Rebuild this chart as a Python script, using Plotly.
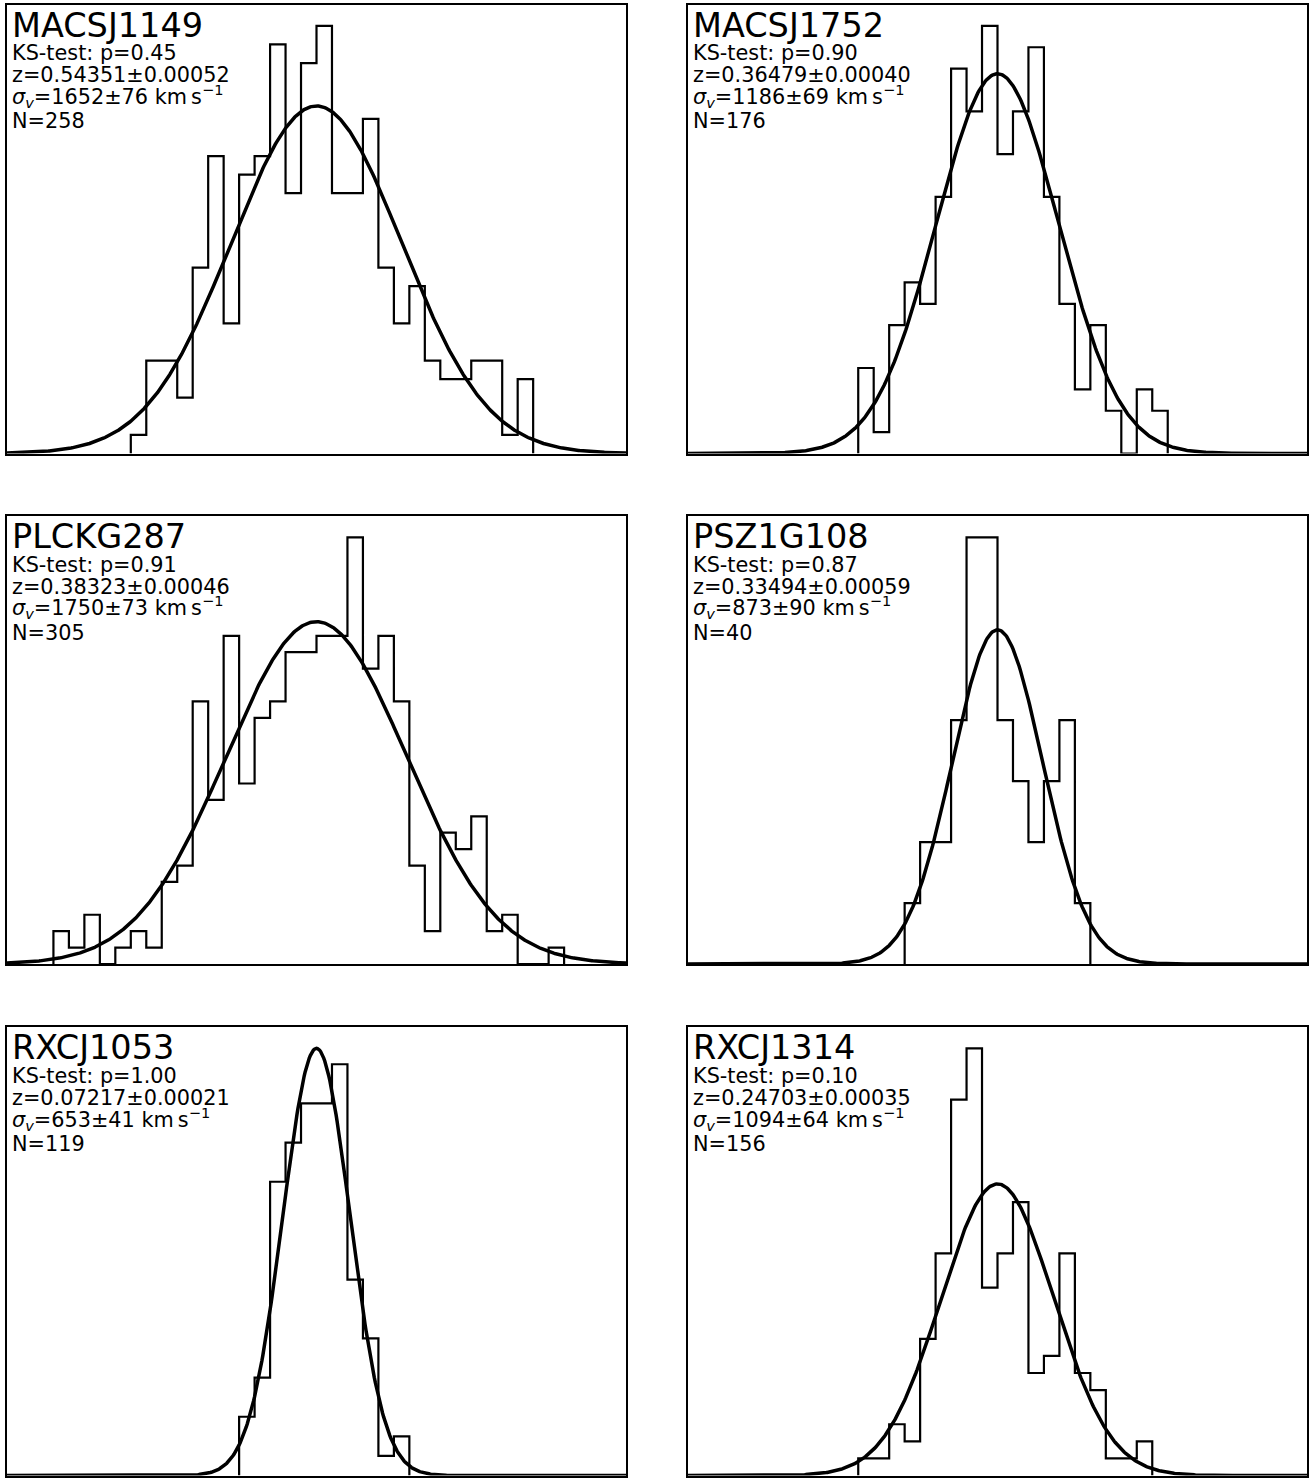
import numpy as np
import plotly.graph_objects as go

# ---------------- data ----------------
cluster_names = ["MACSJ1149", "MACSJ1752", "PLCKG287", "PSZ1G108", "RXCJ1053", "RXCJ1314"]
ks_pvalues = ["0.45", "0.90", "0.91", "0.87", "1.00", "0.10"]
redshift_labels = ["0.54351±0.00052", "0.36479±0.00040", "0.38323±0.00046",
                   "0.33494±0.00059", "0.07217±0.00021", "0.24703±0.00035"]
sigma_v = [1652, 1186, 1750, 873, 653, 1094]          # km/s
sigma_v_err = [76, 69, 73, 90, 41, 64]                # km/s
n_members = [258, 176, 305, 40, 119, 156]
bin_width = 300                                       # km/s
bin_start = [-3600, -2700, -5100, -1800, -1500, -2700]  # left edge of first bin, km/s

counts_MACSJ1149 = [1, 5, 5, 3, 10, 16, 7, 15, 16, 22, 14, 21, 23, 14, 14, 18, 10, 7, 9, 5, 4, 4, 5, 5, 1, 4]
counts_MACSJ1752 = [4, 1, 6, 8, 7, 12, 18, 16, 20, 14, 16, 19, 12, 7, 3, 6, 2, 0, 3, 2]
counts_PLCKG287 = [2, 1, 3, 0, 1, 2, 1, 5, 6, 16, 10, 20, 11, 15, 16, 19, 19, 20, 20, 26, 18, 20, 16, 6, 2, 8, 7, 9, 2, 3, 0, 0, 1]
counts_PSZ1G108 = [1, 2, 2, 4, 7, 7, 4, 3, 2, 3, 4, 1]
counts_RXCJ1053 = [3, 5, 15, 17, 19, 19, 21, 10, 7, 1, 2]
counts_RXCJ1314 = [1, 1, 3, 2, 8, 13, 22, 25, 11, 13, 16, 6, 7, 13, 6, 5, 1, 1, 2]
all_counts = [counts_MACSJ1149, counts_MACSJ1752, counts_PLCKG287,
              counts_PSZ1G108, counts_RXCJ1053, counts_RXCJ1314]

v_range = [-6000, 6000]   # km/s, x-axis limits

# ---------------- layout geometry (pixels) ----------------
W, H = 1310, 1478
col_px = [(7, 626), (688, 1307)]
row_px = [(4.5, 453.5), (516, 964), (1027, 1475.5)]

FONT = "DejaVu Sans"
fig = go.Figure()
annotations = []
layout_axes = {}

for i in range(6):
    r, c = divmod(i, 2)
    ax = "" if i == 0 else str(i + 1)
    counts = np.array(all_counts[i], dtype=float)
    edges = bin_start[i] + bin_width * np.arange(len(counts) + 1)

    # step histogram outline
    xs = np.concatenate([[edges[0]], edges])
    ys = np.concatenate([[0], counts, [0]])
    fig.add_trace(go.Scatter(x=xs, y=ys, mode="lines", line=dict(color="black", width=2.2, shape="hv"),
                             xaxis="x" + ax, yaxis="y" + ax, showlegend=False, hoverinfo="skip"))

    # fitted gaussian scaled to histogram counts
    v = np.linspace(v_range[0], v_range[1], 601)
    amp = n_members[i] * bin_width / (sigma_v[i] * np.sqrt(2 * np.pi))
    g = amp * np.exp(-0.5 * (v / sigma_v[i]) ** 2)
    fig.add_trace(go.Scatter(x=v, y=g, mode="lines", line=dict(color="black", width=3.5),
                             xaxis="x" + ax, yaxis="y" + ax, showlegend=False, hoverinfo="skip"))

    ytop = 1.05 * max(counts.max(), amp)
    x0, x1 = col_px[c]
    y0, y1 = row_px[r]
    axis_common = dict(showline=True, mirror=True, linecolor="black", linewidth=2,
                       showgrid=False, zeroline=False, showticklabels=False, ticks="")
    layout_axes["xaxis" + ax] = dict(domain=[x0 / W, x1 / W], range=v_range,
                                     anchor="y" + ax, **axis_common)
    layout_axes["yaxis" + ax] = dict(domain=[1 - y1 / H, 1 - y0 / H], range=[0, ytop],
                                     anchor="x" + ax, **axis_common)

    # text block
    tx = (x0 + 4) / W
    top = y0 - 1
    lines = [
        (cluster_names[i], 33.5, 21.5),
        ("KS-test: p=" + ks_pvalues[i], 20.8, 49.8),
        ("z=" + redshift_labels[i], 20.8, 71.5),
        ("<i>σ</i><sub><i>v</i></sub>=%d±%d km\u2009s<sup>−1</sup>" % (sigma_v[i], sigma_v_err[i]), 20.8, 92.5),
        ("N=%d" % n_members[i], 20.8, 117.6),
    ]
    for text, size, dy in lines:
        annotations.append(dict(text=text, x=tx, y=1 - (top + dy) / H, xref="paper", yref="paper",
                                xanchor="left", yanchor="middle", showarrow=False, borderpad=0,
                                font=dict(family=FONT, size=size, color="black")))

fig.update_layout(width=W, height=H, margin=dict(l=0, r=0, t=0, b=0),
                  paper_bgcolor="white", plot_bgcolor="white",
                  annotations=annotations, **layout_axes)
fig.write_html("out.html", config={"displayModeBar": False},
               post_script="document.body.style.margin='0';document.body.style.overflow='hidden';")
